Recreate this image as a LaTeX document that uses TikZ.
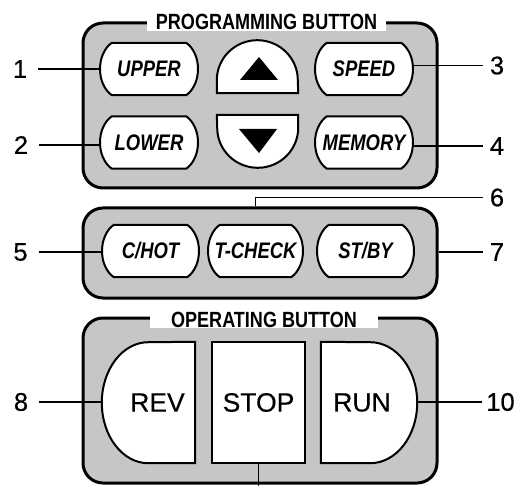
\documentclass[tikz,border=0pt]{standalone}
\usepackage{fontspec}
\setmainfont{Liberation Sans}
\newfontfamily\condfont[FakeStretch=0.82]{Liberation Sans}
\newfontfamily\numfont[FakeBold=0.4]{Liberation Sans}
\usetikzlibrary{calc}
\pgfdeclarelayer{panel}
\pgfdeclarelayer{btn}
\pgfsetlayers{panel,btn,main}
\definecolor{panelgray}{RGB}{198,198,198}
\newcommand\octoutline[1]{%
  \draw[btnline] let \p1=(#1.north west), \p2=(#1.south east) in
    (\x1+12pt,\y1) -- (\x2-12pt,\y1)
    .. controls (\x2+3.7pt,\y1-11pt) and (\x2+3.7pt,\y2+11pt) .. (\x2-12pt,\y2)
    -- (\x1+12pt,\y2)
    .. controls (\x1-3.7pt,\y2+11pt) and (\x1-3.7pt,\y1-11pt) .. cycle;}
\begin{document}
\begin{tikzpicture}[x=1pt,y=-1pt,
  panelbox/.style 2 args={draw=black, line width=3pt, fill=panelgray,
    rounded corners=20pt, inner sep=0pt, minimum width=#1pt, minimum height=#2pt},
  btnline/.style={draw=black, line width=2pt, fill=white},
  btn/.style 2 args={inner sep=0pt, minimum width=#1pt, minimum height=#2pt,
    font=\condfont\fontsize{22.5}{26}\bfseries\itshape\selectfont},
  opbtn/.style 2 args={inner sep=0pt, minimum width=#1pt, minimum height=#2pt,
    font=\numfont\fontsize{26.5}{30}\selectfont},
  titlebox/.style={fill=white, inner ysep=1pt,
    font=\condfont\fontsize{22}{26}\bfseries\selectfont},
  num/.style={inner sep=0pt, font=\numfont\fontsize{25.5}{28}\selectfont},
  numL/.style={num, outer xsep=11pt},
  numR/.style={num, outer xsep=7pt},
  conn/.style={draw=black, line width=1.5pt}
]
\useasboundingbox (0,0) rectangle (519,486);
\begin{pgfonlayer}{panel}
  \fill[white] (0,0) rectangle (519,486);
  \node[panelbox={354}{165}] (prog) at (260,105.5) {};
  \node[panelbox={354}{90}] (aux) at (260,253) {};
  \node[panelbox={354}{165}] (oper) at (260,400.5) {};
\end{pgfonlayer}

% titles
\node[titlebox, inner xsep=8.5pt] (progtitle) at (266.5,22) {PROGRAMMING BUTTON};
\node[titlebox, inner xsep=21pt] (opertitle) at (264,319.5) {OPERATING BUTTON};

% programming buttons
\node[btn={98}{52}] (upper) at (149,69) {UPPER};
\node[btn={98}{52}] (lower) at (149,142.5) {LOWER};
\node[btn={98}{52}] (speed) at (364,69) {SPEED};
\node[btn={98}{52}] (memory) at (364,142.5) {MEMORY};
\node[btn={81}{53}] (up) at (257.5,66.5) {};
\node[btn={81}{53}] (down) at (257.5,141.5) {};
% second row
\node[btn={97}{52}] (chot) at (150.5,251) {C/HOT};
\node[btn={95}{52}] (tcheck) at (255.5,251) {T-CHECK};
\node[btn={97}{52}] (stby) at (365.5,251) {ST/BY};
% operating buttons
\node[opbtn={93}{121}] (rev) at (148.5,402.5) {\hspace*{18pt}REV};
\node[opbtn={93}{121}] (stop) at (258.5,402.5) {STOP};
\node[opbtn={96}{121}] (run) at (369,402.5) {RUN\hspace*{14pt}};

\begin{pgfonlayer}{btn}
  \octoutline{upper}
  \octoutline{lower}
  \octoutline{speed}
  \octoutline{memory}
  \octoutline{chot}
  \octoutline{tcheck}
  \octoutline{stby}
  \draw[btnline] let \p1=(up.north west), \p2=(up.south east) in
    (\x1,\y2) -- (\x1,\y2+13pt) arc[start angle=180, end angle=0, x radius=40.5pt, y radius=40pt]
    -- (\x2,\y2) -- cycle;
  \draw[btnline] let \p1=(down.north west), \p2=(down.south east) in
    (\x1,\y1) -- (\x2,\y1) -- (\x2,\y1-13pt) arc[start angle=0, end angle=-180, x radius=40.5pt, y radius=40pt]
    -- cycle;
  \draw[btnline] let \p1=(rev.north west), \p2=(rev.south east) in
    (\x2,\y1) -- (\x2,\y2) -- (\x1+46.5pt,\y2)
    arc[start angle=-90, end angle=-270, x radius=46.5pt, y radius=60.5pt] -- cycle;
  \draw[btnline] (stop.north west) rectangle (stop.south east);
  \draw[btnline] let \p1=(run.north west), \p2=(run.south east) in
    (\x1,\y1) -- (\x1,\y2) -- (\x2-47pt,\y2)
    arc[start angle=-90, end angle=90, x radius=47pt, y radius=60.5pt] -- cycle;
\end{pgfonlayer}

% arrow triangles
\fill ($(up)+(1.5,-9.5)$) -- ($(up)+(-17.5,13.5)$) -- ($(up)+(20.5,13.5)$) -- cycle;
\fill ($(down)+(-18.5,-12.5)$) -- ($(down)+(19.5,-12.5)$) -- ($(down)+(1.5,11.5)$) -- cycle;

% numbers
\node[numL] (n1) at (20,69) {1};
\node[numL] (n2) at (21,145) {2};
\node[numR] (n3) at (497,65.5) {3};
\node[numR] (n4) at (497,146) {4};
\node[numL] (n5) at (20.5,252) {5};
\node[numR] (n6) at (497,197.5) {6};
\node[numR] (n7) at (497,252) {7};
\node[numL] (n8) at (21,402) {8};
\node[num, outer xsep=4pt] (n10) at (500.5,402) {10};
\coordinate (bot) at (258.5,486);

% connectors
\draw[conn] (n1) -- (n1 -| upper.west);
\draw[conn] (n2) -- (n2 -| lower.west);
\draw[conn] (n3) -- (n3 -| speed.east);
\draw[conn] (n4) -- (n4 -| memory.east);
\draw[conn] (n5) -- (n5 -| chot.west);
\draw[conn] (n6) -| (tcheck.north |- aux.north);
\draw[conn] (n7) -- (n7 -| aux.east);
\draw[conn] (n8) -- (n8 -| rev.west);
\draw[conn] (n10) -- (n10 -| run.east);
\draw[conn] (stop.south) -- (bot);
\end{tikzpicture}
\end{document}
